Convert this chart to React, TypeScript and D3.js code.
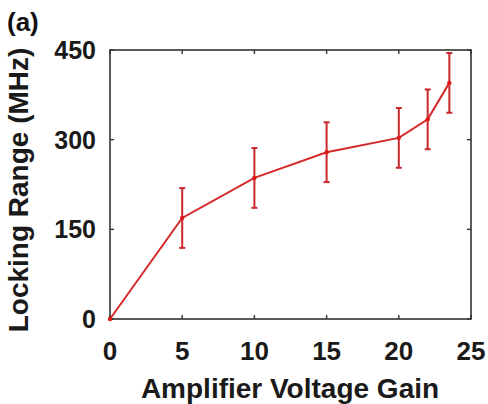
import React from "react";
import * as d3 from "d3";

const gains = [0, 5, 10, 15, 20, 22, 23.5];
const lockingRange = [0, 169, 236, 279, 303, 334, 395];
const errors = [0, 50, 50, 50, 50, 50, 50];
const xTicks = [0, 5, 10, 15, 20, 25];
const yTicks = [0, 150, 300, 450];

const W = 488, H = 404;
const M = { left: 110, right: 17, top: 50, bottom: 85 };

export default function App() {
  const x = d3.scaleLinear().domain([0, 25]).range([M.left, W - M.right]);
  const y = d3.scaleLinear().domain([0, 450]).range([H - M.bottom, M.top]);
  const pts = gains.map((g, i) => ({ g, v: lockingRange[i], e: errors[i] }));
  const line = d3.line<any>().x((d) => x(d.g)).y((d) => y(d.v));
  const axisColor = "#333";
  const red = "#d42a2a";
  const font = "Liberation Sans, Arial, sans-serif";
  const tl = 4;
  return (
    <svg width={W} height={H} style={{ position: "absolute", left: 0, top: 0 }} fontFamily={font}>
      <rect x={0} y={0} width={W} height={H} fill="#fff" />
      <text x={7} y={31} fontSize={26} fontWeight="bold" fill="#111">(a)</text>
      {/* frame */}
      <rect x={x(0)} y={y(450)} width={x(25) - x(0)} height={y(0) - y(450)} fill="none" stroke={axisColor} strokeWidth={1.6} />
      {xTicks.map((t) => (
        <g key={"xt" + t}>
          <line x1={x(t)} x2={x(t)} y1={y(0)} y2={y(0) - tl} stroke={axisColor} strokeWidth={1.4} />
          <line x1={x(t)} x2={x(t)} y1={y(450)} y2={y(450) + tl} stroke={axisColor} strokeWidth={1.4} />
          <text x={x(t)} y={360} fontSize={26} fontWeight="bold" textAnchor="middle" fill="#1a1a1a">{t}</text>
        </g>
      ))}
      {yTicks.map((t) => (
        <g key={"yt" + t}>
          <line x1={x(0)} x2={x(0) + tl} y1={y(t)} y2={y(t)} stroke={axisColor} strokeWidth={1.4} />
          <line x1={x(25)} x2={x(25) - tl} y1={y(t)} y2={y(t)} stroke={axisColor} strokeWidth={1.4} />
          <text x={96} y={y(t) + 9} fontSize={25} fontWeight="bold" textAnchor="end" fill="#1a1a1a">{t}</text>
        </g>
      ))}
      {/* error bars */}
      {pts.filter((d) => d.e > 0).map((d, i) => (
        <g key={"eb" + i} stroke="#c8282c" strokeWidth={2}>
          <line x1={x(d.g)} x2={x(d.g)} y1={y(d.v - d.e)} y2={y(d.v + d.e)} />
          <line x1={x(d.g) - 3} x2={x(d.g) + 3} y1={y(d.v - d.e)} y2={y(d.v - d.e)} />
          <line x1={x(d.g) - 3} x2={x(d.g) + 3} y1={y(d.v + d.e)} y2={y(d.v + d.e)} />
        </g>
      ))}
      <path d={line(pts) || ""} fill="none" stroke={red} strokeWidth={2} />
      {pts.map((d, i) => (
        <circle key={"p" + i} cx={x(d.g)} cy={y(d.v)} r={2.2} fill="#e01818" />
      ))}
      <text x={290} y={398} fontSize={28} fontWeight="bold" textAnchor="middle" fill="#1a1a1a">Amplifier Voltage Gain</text>
      <text transform={`translate(28,190) rotate(-90)`} fontSize={28} fontWeight="bold" textAnchor="middle" fill="#1a1a1a">Locking Range (MHz)</text>
    </svg>
  );
}
